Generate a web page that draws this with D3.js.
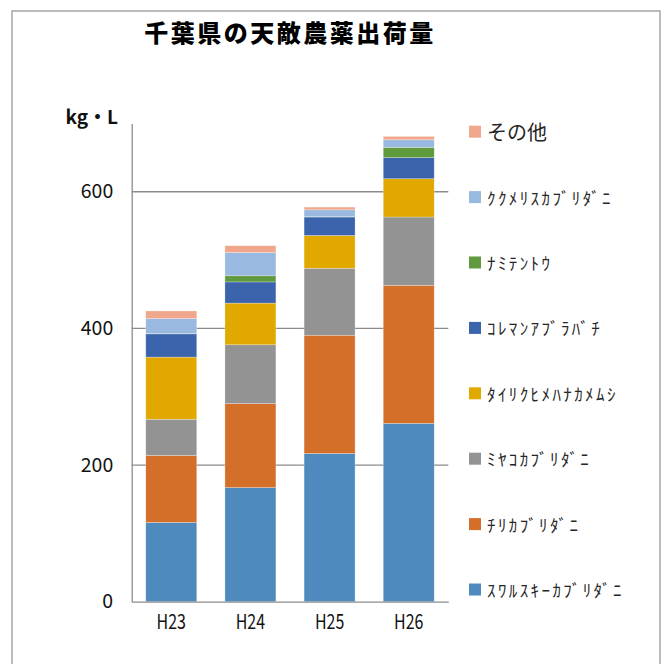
<!DOCTYPE html>
<html>
<head>
<meta charset="utf-8">
<script src="https://cdn.jsdelivr.net/npm/d3@7"></script>
<style>
  html, body { margin: 0; padding: 0; background: #fff; }
  svg { display: block; }
  text { font-family: "Noto Sans CJK JP", "Noto Sans", sans-serif; }
</style>
</head>
<body>
<div id="chart"></div>
<script>
// 年度
const years = ['H23', 'H24', 'H25', 'H26'];

// 系列 (下から積み上げ順)
const seriesNames = ['ｽﾜﾙｽｷｰｶﾌﾞﾘﾀﾞﾆ', 'ﾁﾘｶﾌﾞﾘﾀﾞﾆ', 'ﾐﾔｺｶﾌﾞﾘﾀﾞﾆ', 'ﾀｲﾘｸﾋﾒﾊﾅｶﾒﾑｼ',
    'ｺﾚﾏﾝｱﾌﾞﾗﾊﾞﾁ', 'ﾅﾐﾃﾝﾄｳ', 'ｸｸﾒﾘｽｶﾌﾞﾘﾀﾞﾆ', 'その他'];
const suwarusuki = [116, 167, 217, 261];
const chiri = [98, 123, 173, 202];
const miyako = [53, 86, 98, 100];
const tairiku = [91, 61, 48, 56];
const koreman = [34, 31, 27, 31];
const namitentou = [0.5, 9, 0.5, 15];
const kukumeris = [22, 34, 10, 11];
const sonota = [11, 10, 4, 5];

const yTicks = [0, 200, 400, 600];
const colors = ['#4e8abe', '#d46f2a', '#939393', '#e1a900', '#3b64ad', '#5f9b3e', '#9ab9e0', '#f0a78b'];

const seriesValues = [suwarusuki, chiri, miyako, tairiku, koreman, namitentou, kukumeris, sonota];
const table = years.map((year, i) => {
    const row = { year: year };
    seriesNames.forEach((name, s) => { row[name] = seriesValues[s][i]; });
    return row;
});

const width = 664, height = 664;
const plot = { left: 131.7, right: 448.3, top: 123.4, bottom: 601.7 };

const svg = d3.select('#chart').append('svg')
    .attr('width', width).attr('height', height);

// 外枠
svg.append('rect')
    .attr('x', 12).attr('y', 11)
    .attr('width', 648).attr('height', 670)
    .attr('fill', 'none').attr('stroke', '#a6a6a6').attr('stroke-width', 1.5);

const x = d3.scaleBand()
    .domain(years)
    .range([plot.left, plot.right])
    .paddingInner(0.356)
    .paddingOuter(0.178);

const y = d3.scaleLinear()
    .domain([0, 700])
    .range([plot.bottom, plot.top]);

// 目盛線
svg.append('g').selectAll('line')
    .data(yTicks.filter(d => d > 0))
    .join('line')
    .attr('x1', plot.left).attr('x2', plot.right)
    .attr('y1', d => y(d)).attr('y2', d => y(d))
    .attr('stroke', '#8c8c8c').attr('stroke-width', 1.3);

// 積み上げ棒
const stacked = d3.stack().keys(seriesNames)(table);
svg.append('g').selectAll('g')
    .data(stacked)
    .join('g')
    .attr('fill', (d, i) => colors[i])
    .selectAll('rect')
    .data(d => d)
    .join('rect')
    .attr('x', d => x(d.data.year))
    .attr('width', x.bandwidth())
    .attr('y', d => y(d[1]))
    .attr('height', d => y(d[0]) - y(d[1]))
    .attr('stroke', '#ffffff')
    .attr('stroke-opacity', 0.45)
    .attr('stroke-width', 0.6);

// 軸
const yAxis = svg.append('g')
    .attr('transform', `translate(${plot.left},0)`)
    .call(d3.axisLeft(y).tickValues(yTicks).tickSize(0).tickPadding(18.5));
yAxis.select('.domain').attr('stroke', '#8c8c8c').attr('stroke-width', 1.3);
yAxis.selectAll('text')
    .attr('font-size', 19.5)
    .attr('font-family', '"Liberation Sans", Arial, sans-serif')
    .attr('fill', '#111');

const xAxis = svg.append('g')
    .attr('transform', `translate(0,${plot.bottom})`)
    .call(d3.axisBottom(x).tickSize(0).tickPadding(13));
xAxis.select('.domain').attr('stroke', '#8c8c8c').attr('stroke-width', 1.3);
xAxis.selectAll('text')
    .attr('font-size', 20.5)
    .attr('font-family', '"Liberation Sans", Arial, sans-serif')
    .attr('transform', 'scale(0.78,1)')
    .attr('fill', '#111');

// 単位
svg.append('text')
    .attr('x', 118).attr('y', 115)
    .attr('text-anchor', 'end')
    .attr('dominant-baseline', 'central')
    .attr('font-size', 19)
    .attr('font-weight', 'bold')
    .attr('fill', '#111')
    .text('kg・L');

// タイトル
svg.append('text')
    .attr('x', 290).attr('y', 31)
    .attr('text-anchor', 'middle')
    .attr('dominant-baseline', 'central')
    .attr('font-size', 24)
    .attr('font-weight', 900)
    .attr('letter-spacing', 2.5)
    .attr('fill', '#000')
    .text('千葉県の天敵農薬出荷量');

// 凡例
const legendOrder = seriesNames.slice().reverse();
const ly = d3.scalePoint().domain(legendOrder).range([131.7, 589.5]);
const legend = svg.append('g').selectAll('g')
    .data(legendOrder)
    .join('g')
    .attr('transform', d => `translate(469,${ly(d)})`);
legend.append('rect')
    .attr('x', 0).attr('y', -6)
    .attr('width', 12).attr('height', 12)
    .attr('fill', d => colors[seriesNames.indexOf(d)]);
legend.append('text')
    .attr('x', 18).attr('y', 0)
    .attr('dominant-baseline', 'central')
    .attr('font-size', d => d === 'その他' ? 20 : 17)
    .attr('letter-spacing', d => d === 'その他' ? 0 : 2.4)
    .attr('fill', '#262626')
    .text(d => d);
</script>
</body>
</html>
